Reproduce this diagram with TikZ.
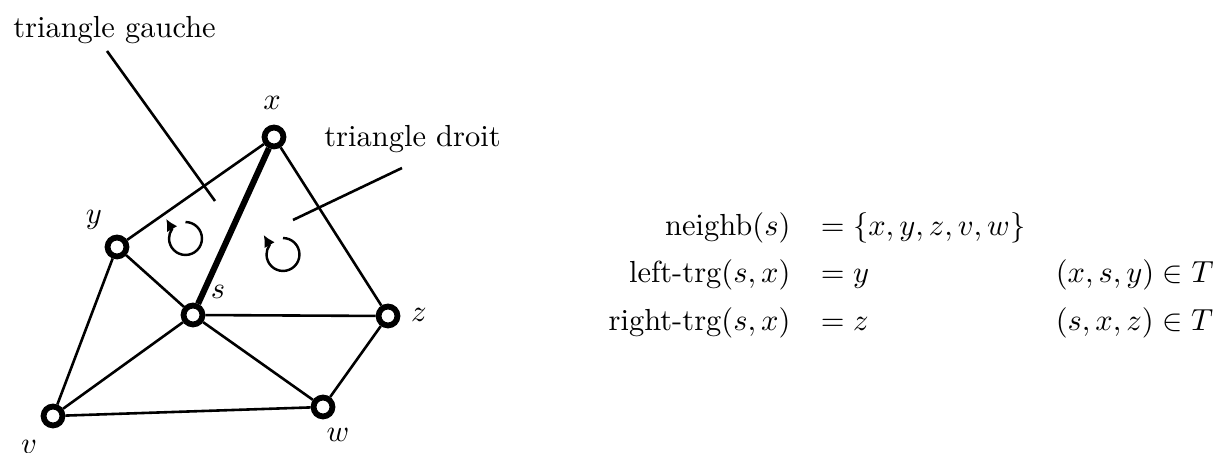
\documentclass[tikz,border=0pt]{standalone}
\usetikzlibrary{arrows.meta}
\begin{document}
\begin{tikzpicture}[x=0.328pt,y=0.328pt,
  vtx/.style={circle,draw,line width=1.9pt,fill=white,inner sep=0pt,minimum size=6.2pt},
  arete/.style={line width=0.85pt},
  turn/.style={line width=0.8pt,-{Latex[length=3.8pt,width=4pt]}}]
  \useasboundingbox (0,0) rectangle (1217,453);
  % sommets
  \node[vtx] (x) at (274,316) {};
  \node[vtx] (y) at (117,206) {};
  \node[vtx] (s) at (193,138) {};
  \node[vtx] (z) at (388,137) {};
  \node[vtx] (v) at (53,37) {};
  \node[vtx] (w) at (323,46) {};
  \draw[arete] (x) -- (y) (x) -- (z) (y) -- (s) (y) -- (v)
    (s) -- (z) (s) -- (v) (s) -- (w) (z) -- (w) (v) -- (w);
  \draw[line width=2pt] (s) -- (x);
  \node (lx) at (272,350) {$x$};
  \node (ly) at (94,233) {$y$};
  \node (ls) at (218,161) {$s$};
  \node (lz) at (419,138) {$z$};
  \node (lv) at (29,6) {$v$};
  \node (lw) at (338,18) {$w$};
  % orientation
  \coordinate (lt) at (185.5,214.5);
  \coordinate (rt) at (283,198.5);
  \draw[turn] (lt) ++(90:5.4pt) arc[start angle=90,end angle=-215,radius=5.4pt] -- ++(120:3.8pt);
  \draw[turn] (rt) ++(90:5.4pt) arc[start angle=90,end angle=-215,radius=5.4pt] -- ++(120:3.8pt);
  % legendes
  \node[anchor=base] (gauche) at (114.5,415) {triangle gauche};
  \node[anchor=base] (droit) at (412.5,306) {triangle droit};
  \coordinate (gA) at (107,402);
  \coordinate (gB) at (215,252);
  \coordinate (dA) at (402,285);
  \coordinate (dB) at (293,233);
  \draw[arete] (gA) -- (gB) (dA) -- (dB);
  \node[anchor=base west,inner sep=0pt] (eqs) at (608,172) {\renewcommand{\arraystretch}{1.29}%
    $\begin{array}{@{}rll@{}}
      \mathrm{neighb}(s) & = \{x,y,z,v,w\} & \\
      \textrm{left-trg}(s,x) & = y & (x,s,y)\in T\\
      \textrm{right-trg}(s,x) & = z & (s,x,z)\in T
    \end{array}$};
\end{tikzpicture}
\end{document}
